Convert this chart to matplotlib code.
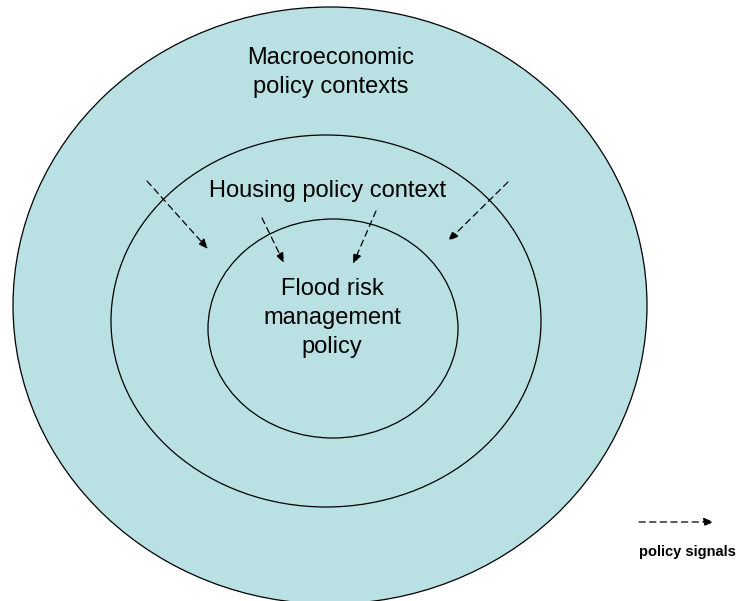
#! /usr/bin/env python3

'''
Nested policy contexts: macroeconomic, housing and flood risk management,
with dashed arrows for policy signals.
'''

import matplotlib.pyplot as plt
from matplotlib.patches import Ellipse


# ellipses: centre x, centre y, width, height (pixel space of the picture)
ellipse_cx = [330, 326, 333]
ellipse_cy = [305.5, 321, 328.5]
ellipse_w = [634, 430, 250]
ellipse_h = [597, 372, 219]

labels = ['Macroeconomic\npolicy contexts',
          'Housing policy context',
          'Flood risk\nmanagement\npolicy']
label_x = [331, 328, 332]
label_y = [72.5, 191, 318]

# policy signal arrows: start -> tip
arrow_start = [(147, 181), (262, 218), (376, 211), (508, 182)]
arrow_tip = [(208, 249), (284, 263), (353, 264), (448, 241)]

legend_start = (639, 522)
legend_tip = (714, 522)
legend_text = 'policy signals'

fill = '#B9E0E3'
plt.rcParams['font.family'] = ['Liberation Sans', 'DejaVu Sans']


def main():
    fig = plt.figure(figsize=(7.40, 6.01), dpi=100)
    ax = fig.add_axes([0, 0, 1, 1])
    ax.set_xlim(0, 740)
    ax.set_ylim(601, 0)
    ax.axis('off')

    for i, (cx, cy, w, h) in enumerate(
            zip(ellipse_cx, ellipse_cy, ellipse_w, ellipse_h)):
        ax.add_patch(Ellipse((cx, cy), w, h,
                             facecolor=fill if i == 0 else 'none',
                             edgecolor='black', lw=0.9, zorder=1 + i))

    for text, x, y in zip(labels, label_x, label_y):
        ax.text(x, y, text, ha='center', va='center', fontsize=17,
                linespacing=1.4, zorder=5)

    arrowprops = dict(arrowstyle='-|>,head_length=0.6,head_width=0.24',
                      linestyle=(0, (5, 3.5)), color='black', lw=0.9,
                      shrinkA=0, shrinkB=0)
    for start, tip in zip(arrow_start, arrow_tip):
        ax.annotate('', xy=tip, xytext=start, arrowprops=arrowprops,
                    zorder=6)
    ax.annotate('', xy=legend_tip, xytext=legend_start,
                arrowprops=arrowprops, zorder=6)
    ax.text(687, 552, legend_text, ha='center', va='center',
            fontsize=10.5, fontweight='bold')

    fig.savefig('out.png', dpi=100)


if __name__ == '__main__':
    main()
